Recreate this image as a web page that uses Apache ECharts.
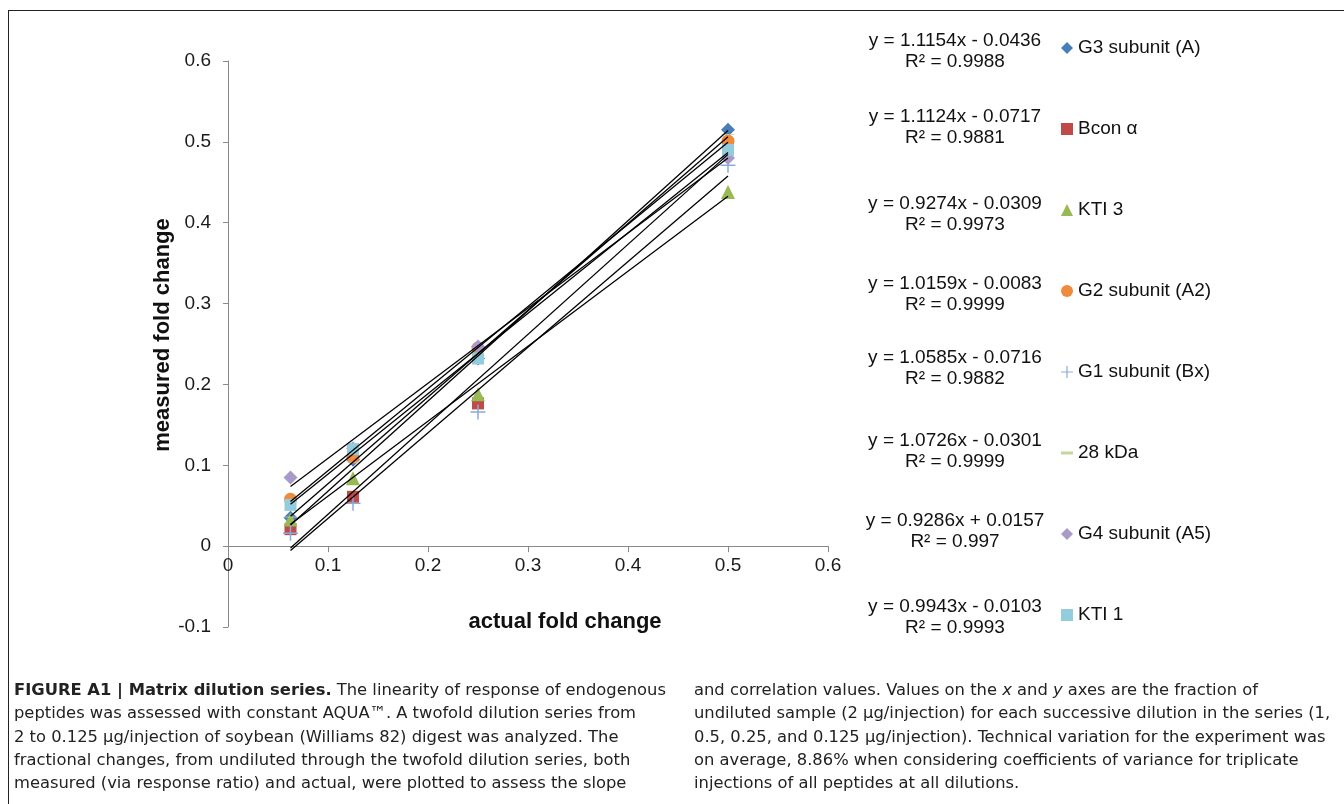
<!DOCTYPE html>
<html>
<head>
<meta charset="utf-8">
<script src="https://cdn.jsdelivr.net/npm/echarts@6/dist/echarts.min.js"></script>
<style>
  html, body { margin: 0; padding: 0; background: #fff; }
  #wrap { position: relative; width: 1344px; height: 804px; overflow: hidden; }
  #frame { position: absolute; left: 8px; top: 10px; width: 1400px; height: 900px;
           border-top: 1.5px solid #222; border-left: 1.5px solid #222; }
  #chart { position: absolute; left: 0; top: 0; width: 1344px; height: 804px; }
  .cap { position: absolute; top: 678px; font-family: "Liberation Sans Narrow", "DejaVu Sans Condensed", "Liberation Sans", sans-serif;
         font-size: 16.5px; line-height: 23.3px; color: #222; white-space: nowrap; transform-origin: 0 0; }
  #capL { left: 14px; }
  #capR { left: 694px; }
</style>
</head>
<body>
<div id="wrap">
  <div id="frame"></div>
  <div id="chart"></div>
  <div class="cap" id="capL"><span id="refLine"><b>FIGURE A1 | Matrix dilution series.</b> The linearity of response of endogenous</span><br>peptides was assessed with constant AQUA™. A twofold dilution series from<br>2 to 0.125 μg/injection of soybean (Williams 82) digest was analyzed. The<br>fractional changes, from undiluted through the twofold dilution series, both<br>measured (via response ratio) and actual, were plotted to assess the slope</div>
  <div class="cap" id="capR">and correlation values. Values on the <i>x</i> and <i>y</i> axes are the fraction of<br>undiluted sample (2 μg/injection) for each successive dilution in the series (1,<br>0.5, 0.25, and 0.125 μg/injection). Technical variation for the experiment was<br>on average, 8.86% when considering coefficients of variance for triplicate<br>injections of all peptides at all dilutions.</div>
</div>
<script>
// ---- data ----
const xValues = [0.0625, 0.125, 0.25, 0.5];
const seriesNames = ['G3 subunit (A)', 'Bcon α', 'KTI 3', 'G2 subunit (A2)', 'G1 subunit (Bx)', '28 kDa', 'G4 subunit (A5)', 'KTI 1'];
const g3Values   = [0.035, 0.107, 0.232, 0.515];
const bconValues = [0.021, 0.061, 0.1765, 0.497];
const kti3Values = [0.033, 0.084, 0.188, 0.438];
const g2Values   = [0.058, 0.110, 0.245, 0.501];
const g1Values   = [0.016, 0.053, 0.166, 0.471];
const kda28Values = [0.036, 0.104, 0.236, 0.509];
const g4Values   = [0.085, 0.121, 0.247, 0.480];
const kti1Values = [0.051, 0.120, 0.232, 0.490];
const slopes     = [1.1154, 1.1124, 0.9274, 1.0159, 1.0585, 1.0726, 0.9286, 0.9943];
const intercepts = [-0.0436, -0.0717, -0.0309, -0.0083, -0.0716, -0.0301, 0.0157, -0.0103];
const rSquared   = [0.9988, 0.9881, 0.9973, 0.9999, 0.9882, 0.9999, 0.997, 0.9993];
const yMin = -0.1, yMax = 0.6, xMin = 0, xMax = 0.6, tickStep = 0.1;

// ---- styles / layout ----
const allValues = [g3Values, bconValues, kti3Values, g2Values, g1Values, kda28Values, g4Values, kti1Values];
const colors = ['#4A7EBB', '#BE4B48', '#98B954', '#F08A3C', '#8DA9DB', '#C3D69B', '#A99BC9', '#93CDDD'];
const PLUS = 'path://M5.4,0H6.6V12H5.4ZM0,5.4H12V6.6H0Z';
const DASH = 'path://M0,0H12V3H0Z';
const symbols = ['diamond', 'rect', 'triangle', 'circle', PLUS, DASH, 'diamond', 'rect'];
const symbolSizes = [14, 12, 14, 13, 15, [13, 3], 14, 12];
const eqCenters = [41, 117, 204, 284, 358, 441, 521, 607];
const FONT = '"Liberation Sans", Arial, sans-serif';
const GRID_TOP = 61, GRID_BOTTOM = 177, GRID_H = 804 - GRID_TOP - GRID_BOTTOM;
// x axis crosses at y = 0: move it up from the grid bottom
const xAxisOffset = -GRID_H * (0 - yMin) / (yMax - yMin);

function fmtEq(i) {
  const b = intercepts[i];
  return 'y = ' + slopes[i].toFixed(4) + 'x ' + (b < 0 ? '- ' : '+ ') + Math.abs(b).toFixed(4) +
         '\nR² = ' + String(rSquared[i]);
}

const series = [];
seriesNames.forEach((name, i) => {
  series.push({
    name: name, type: 'scatter',
    data: xValues.map((x, k) => [x, allValues[i][k]]),
    symbol: symbols[i], symbolSize: symbolSizes[i], symbolKeepAspect: true,
    itemStyle: { color: colors[i], opacity: 1 },
    z: 2 + i * 0.01, silent: true
  });
});
seriesNames.forEach((name, i) => {
  const x0 = xValues[0], x1 = xValues[xValues.length - 1];
  series.push({
    name: name + ' trend', type: 'line',
    data: [[x0, slopes[i] * x0 + intercepts[i]], [x1, slopes[i] * x1 + intercepts[i]]],
    symbol: 'none', lineStyle: { color: '#000', width: 1.3 },
    z: 5, silent: true
  });
});

const axisCol = '#898989';
const chart = echarts.init(document.getElementById('chart'), null, { renderer: 'canvas' });
chart.setOption({
  animation: false,
  textStyle: { fontFamily: FONT },
  grid: { left: 228, right: 516, top: GRID_TOP, bottom: GRID_BOTTOM, containLabel: false },
  xAxis: {
    type: 'value', min: xMin, max: xMax, interval: tickStep,
    offset: xAxisOffset,
    axisLine: { show: true, onZero: false, lineStyle: { color: axisCol, width: 1 } },
    axisTick: { show: true, length: 6, lineStyle: { color: axisCol } },
    axisLabel: { fontSize: 19, color: '#1a1a1a', margin: 10, fontFamily: FONT },
    splitLine: { show: false },
    name: 'actual fold change', nameLocation: 'middle', nameGap: 65,
    nameTextStyle: { fontSize: 22, fontWeight: 'bold', color: '#111', fontFamily: FONT, padding: [0, 0, 0, 74] }
  },
  yAxis: {
    type: 'value', min: yMin, max: yMax, interval: tickStep,
    axisLine: { show: true, onZero: false, lineStyle: { color: axisCol, width: 1 } },
    axisTick: { show: true, length: 5, lineStyle: { color: axisCol } },
    axisLabel: { fontSize: 19, color: '#1a1a1a', margin: 17, fontFamily: FONT },
    splitLine: { show: false },
    name: 'measured fold change', nameLocation: 'middle', nameGap: 51, nameRotate: 90,
    nameTextStyle: { fontSize: 22, fontWeight: 'bold', color: '#111', fontFamily: FONT, padding: [0, 0, 0, 18] }
  },
  legend: {
    data: seriesNames, orient: 'vertical', left: 1056, top: 33,
    itemWidth: 12, itemHeight: 12, itemGap: 61,
    textStyle: { fontSize: 19, color: '#111', fontFamily: FONT, lineHeight: 20 },
    selectedMode: false
  },
  graphic: seriesNames.map((name, i) => ({
    type: 'text', x: 955, y: eqCenters[i] - 10.5, silent: true,
    style: { text: fmtEq(i), align: 'center', verticalAlign: 'top',
             font: '19px ' + FONT, lineHeight: 21, fill: '#111' }
  })),
  series: series
});

// compress caption horizontally so that the first caption line spans the reference width
(function () {
  const ref = document.getElementById('refLine');
  const target = 652;
  const w = ref.getBoundingClientRect().width;
  if (w > 0) {
    const s = target / w;
    document.querySelectorAll('.cap').forEach(el => { el.style.transform = 'scaleX(' + s.toFixed(4) + ')'; });
  }
})();
</script>
</body>
</html>
